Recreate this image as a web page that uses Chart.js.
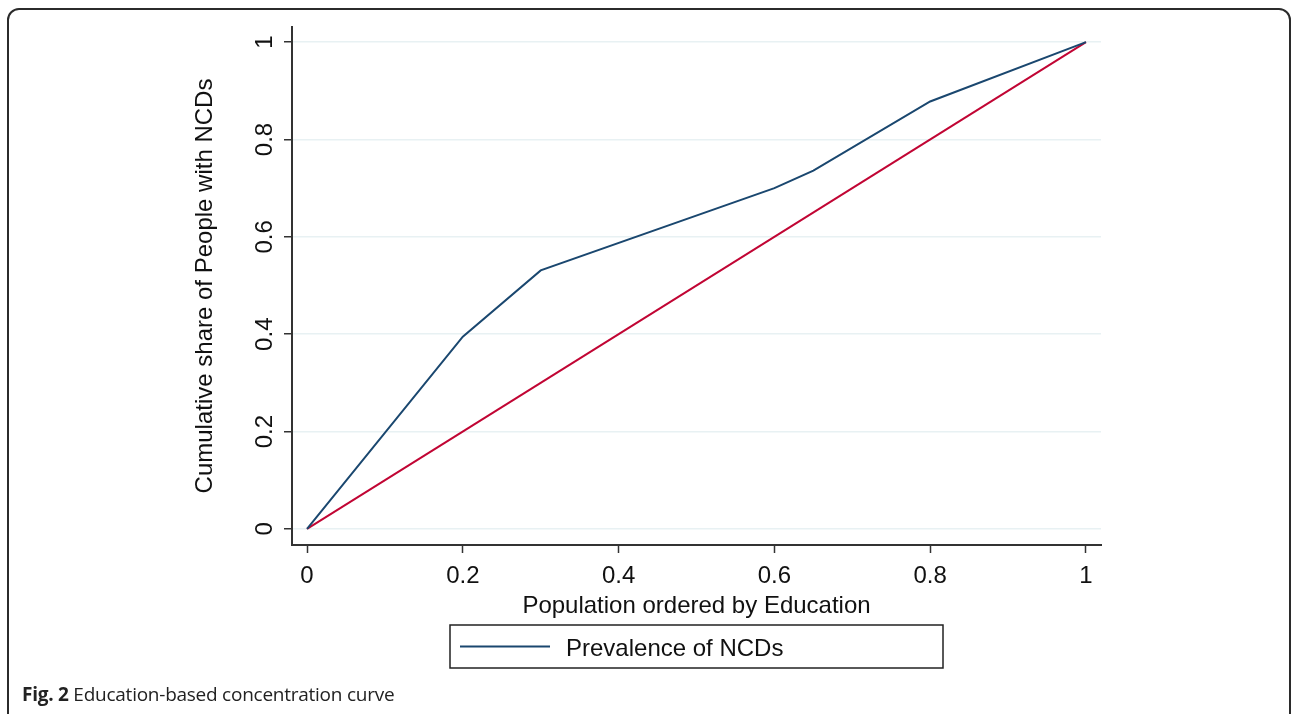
<!DOCTYPE html>
<html lang="en">
<head>
    <meta charset="UTF-8">
    <title>Education-based concentration curve</title>
    <style>
        html, body {
            margin: 0;
            padding: 0;
            background: #fff;
        }

        .page {
            position: relative;
            width: 1292px;
            height: 714px;
            overflow: hidden;
        }

        .frame {
            position: absolute;
            left: 7px;
            top: 8px;
            width: 1280px;
            height: 720px;
            border: 2px solid #2b2b2b;
            border-radius: 12px;
        }

        canvas {
            position: absolute;
            left: 0;
            top: 0;
        }

        .caption {
            position: absolute;
            left: 22px;
            top: 681px;
            font-family: "Open Sans", sans-serif;
            font-size: 19px;
            color: #222;
            letter-spacing: -0.25px;
        }

        .caption b {
            font-weight: 700;
        }
    </style>
    <script src="https://cdn.jsdelivr.net/npm/chart.js"></script>
</head>
<body>
<div class="page">
    <div class="frame"></div>
    <canvas id="curveChart" width="1292" height="714"></canvas>
    <div class="caption"><b>Fig. 2</b> Education-based concentration curve</div>
</div>

<script>
    // concentration curve
    var popShare = [0, 0.2, 0.3, 0.6, 0.65, 0.8, 1];
    var ncdShare = [0, 0.395, 0.531, 0.700, 0.736, 0.878, 1];

    // line of equality
    var equalX = [0, 1];
    var equalY = [0, 1];

    var tickValues = [0, 0.2, 0.4, 0.6, 0.8, 1];

    var axisColor = '#333333';
    var gridColor = '#e8f1f3';
    var navy = '#1a476f';
    var red = '#c10534';
    var font = '"Liberation Sans", Arial, sans-serif';

    function toPoints(xs, ys) {
        return xs.map(function (x, i) { return { x: x, y: ys[i] }; });
    }

    function fixTicks(scale) {
        scale.ticks = tickValues.map(function (v) { return { value: v }; });
    }

    function tickLabel(v) {
        return String(+Number(v).toFixed(1));
    }

    // legend drawn as a boxed key under the x title, Stata style
    var boxedLegend = {
        id: 'boxedLegend',
        afterDraw: function (chart) {
            var ctx = chart.ctx;
            var area = chart.chartArea;
            var ds = chart.data.datasets[0];
            var cx = (area.left + area.right) / 2;
            var w = 493, h = 43;
            var left = cx - w / 2;
            var top = chart.scales.x.bottom + 1;
            ctx.save();
            ctx.strokeStyle = '#222';
            ctx.lineWidth = 1.5;
            ctx.strokeRect(left, top, w, h);
            ctx.strokeStyle = ds.borderColor;
            ctx.lineWidth = 2;
            ctx.beginPath();
            ctx.moveTo(left + 10, top + h / 2);
            ctx.lineTo(left + 100, top + h / 2);
            ctx.stroke();
            ctx.fillStyle = '#111';
            ctx.font = '24px ' + font;
            ctx.textBaseline = 'middle';
            ctx.fillText(ds.label, left + 116, top + h / 2 + 3);
            ctx.restore();
        }
    };

    var ctx = document.getElementById('curveChart').getContext('2d');
    var chart = new Chart(ctx, {
        type: 'line',
        data: {
            datasets: [{
                label: 'Prevalence of NCDs',
                data: toPoints(popShare, ncdShare),
                borderColor: navy,
                borderWidth: 2,
                pointRadius: 0,
                fill: false,
                tension: 0
            }, {
                label: 'Equality',
                data: toPoints(equalX, equalY),
                borderColor: red,
                borderWidth: 2,
                pointRadius: 0,
                fill: false,
                tension: 0
            }]
        },
        options: {
            responsive: false,
            animation: false,
            devicePixelRatio: 1,
            layout: {
                padding: { left: 180, right: 191, top: 27, bottom: 90 }
            },
            plugins: {
                legend: { display: false },
                tooltip: { enabled: false }
            },
            scales: {
                x: {
                    type: 'linear',
                    min: -0.0193,
                    max: 1.0193,
                    afterBuildTicks: fixTicks,
                    afterFit: function (scale) { scale.height = 79; },
                    border: { display: true, color: axisColor, width: 2 },
                    grid: {
                        drawOnChartArea: false,
                        drawTicks: true,
                        tickLength: 8,
                        tickColor: axisColor,
                        tickWidth: 1.5
                    },
                    ticks: {
                        autoSkip: false,
                        maxRotation: 0,
                        padding: 9,
                        color: '#111',
                        font: { family: font, size: 24 },
                        callback: tickLabel
                    },
                    title: {
                        display: true,
                        text: 'Population ordered by Education',
                        color: '#111',
                        font: { family: font, size: 24 },
                        padding: { top: 0, bottom: 3 }
                    }
                },
                y: {
                    type: 'linear',
                    min: -0.033,
                    max: 1.031,
                    afterBuildTicks: fixTicks,
                    afterFit: function (scale) { scale.width = 112; },
                    border: { display: true, color: axisColor, width: 2 },
                    grid: {
                        color: gridColor,
                        lineWidth: 1.5,
                        drawTicks: true,
                        tickLength: 8,
                        tickColor: axisColor,
                        tickWidth: 1.5
                    },
                    ticks: {
                        autoSkip: false,
                        minRotation: 90,
                        maxRotation: 90,
                        crossAlign: 'center',
                        padding: 2,
                        color: '#111',
                        font: { family: font, size: 24 },
                        callback: tickLabel
                    },
                    title: {
                        display: true,
                        text: 'Cumulative share of People with NCDs',
                        color: '#111',
                        font: { family: font, size: 24 },
                        padding: { top: 11, bottom: 0 }
                    }
                }
            }
        },
        plugins: [boxedLegend]
    });
</script>
</body>
</html>
